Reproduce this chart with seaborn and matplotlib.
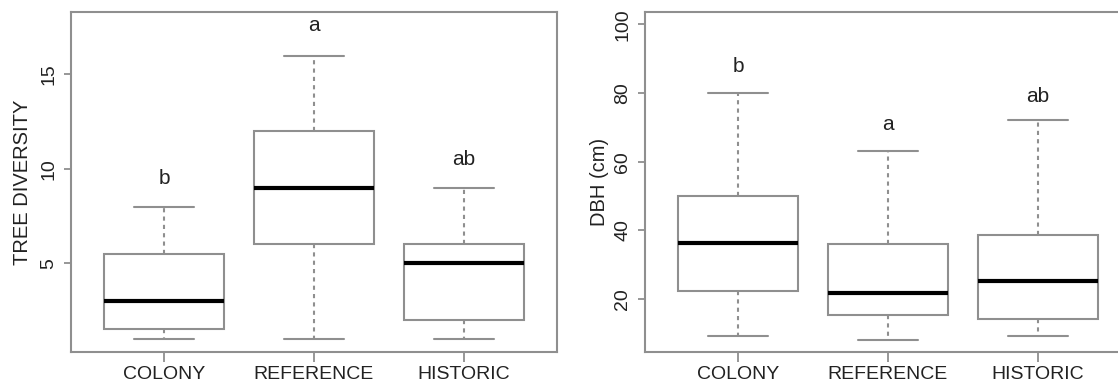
import numpy as np
import pandas as pd
import matplotlib
matplotlib.use("Agg")
import matplotlib.pyplot as plt
import seaborn as sns

# sitios
sitios = ["COLONY", "REFERENCE", "HISTORIC"]

# resumen de cinco numeros: [min, Q1, mediana, Q3, max]
div_colony = [1, 1.5, 3, 5.5, 8]
div_reference = [1, 6, 9, 12, 16]
div_historic = [1, 2, 5, 6, 9]

dbh_colony = [9.2, 22.3, 36.2, 50, 80]
dbh_reference = [8, 15.3, 21.7, 36, 63]
dbh_historic = [9.2, 14.2, 25.2, 38.6, 72.2]

# letras de significancia y su altura
letras_div = ["b", "a", "ab"]
altura_div = [9.5, 17.6, 10.5]
letras_dbh = ["b", "a", "ab"]
altura_dbh = [87.8, 70.7, 79]

def hacer_df(valores, nombre):
    filas = []
    for sitio, v in zip(sitios, valores):
        for x in v:
            filas.append({"Sitio": sitio, nombre: x})
    return pd.DataFrame(filas)

df_div = hacer_df([div_colony, div_reference, div_historic], "TREE DIVERSITY")
df_dbh = hacer_df([dbh_colony, dbh_reference, dbh_historic], "DBH (cm)")

sns.set_style("ticks")
plt.rcParams["font.family"] = ["Liberation Sans", "DejaVu Sans"]

gris = "#8f8f8f"
fig = plt.figure(figsize=(11.18, 3.84), dpi=100)
ax1 = fig.add_axes([0.0635, 0.0833, 0.4347, 0.885])
ax2 = fig.add_axes([0.5769, 0.0833, 0.4347, 0.885])

def dibujar(ax, df, col, letras, alturas, ylim, yticks, lpad):
    sns.boxplot(data=df, x="Sitio", y=col, ax=ax, whis=(0, 100), showfliers=False,
                width=0.8, color="white", linecolor=gris, linewidth=1.5,
                medianprops={"color": "black", "linewidth": 3},
                whiskerprops={"color": gris, "linestyle": (0, (2, 2)), "linewidth": 1.5},
                capprops={"color": gris, "linewidth": 1.5})
    for i, (l, h) in enumerate(zip(letras, alturas)):
        ax.text(i, h, l, ha="center", va="center", fontsize=15, color="#222222")
    ax.set_xlim(-0.62, 2.62)
    ax.set_ylim(*ylim)
    ax.set_yticks(yticks)
    ax.set_yticklabels([str(t) for t in yticks], rotation=90, va="center")
    ax.set_xlabel("")
    ax.set_ylabel(col, fontsize=14.5, color="#222222", labelpad=lpad)
    for s in ax.spines.values():
        s.set_visible(True)
        s.set_color(gris)
        s.set_linewidth(1.5)
    ax.tick_params(axis="y", direction="out", length=5, width=1.3, color=gris,
                   labelsize=14, labelcolor="#222222", pad=5, left=True)
    ax.tick_params(axis="x", direction="out", length=7, width=1.3, color=gris,
                   labelsize=14, labelcolor="#222222", pad=3, bottom=True)

dibujar(ax1, df_div, "TREE DIVERSITY", letras_div, altura_div, (0.3, 18.3), [5, 10, 15], 6)
dibujar(ax2, df_dbh, "DBH (cm)", letras_dbh, altura_dbh, (4.6, 103.5), [20, 40, 60, 80, 100], 4)

fig.savefig("out.png", dpi=100)
